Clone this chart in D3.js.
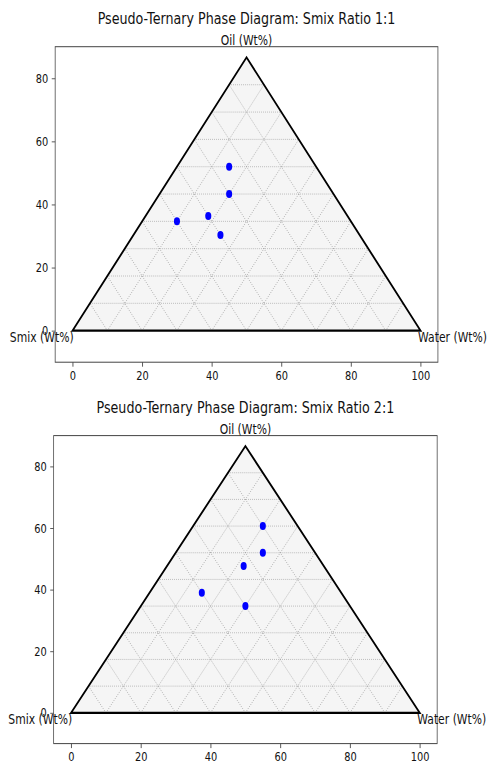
<!DOCTYPE html>
<html>
<head>
<meta charset="utf-8">
<script src="https://cdn.jsdelivr.net/npm/d3@7"></script>
<style>
  body { margin: 0; background: #fff; }
  text { font-family: "DejaVu Sans", sans-serif; fill: #111; }
</style>
</head>
<body>
<div id="chart"></div>
<script>
// chart values
var titles = ["Pseudo-Ternary Phase Diagram: Smix Ratio 1:1",
              "Pseudo-Ternary Phase Diagram: Smix Ratio 2:1"];
var ticksX = [0, 20, 40, 60, 80, 100];
var ticksY = [0, 20, 40, 60, 80];
var gridLevels = [10, 20, 30, 40, 50, 60, 70, 80, 90];

// composition points (Wt%)
var oil1 = [60, 50, 42, 40, 35];
var water1 = [15, 20, 18, 10, 25];
var smix1 = [25, 30, 40, 50, 40];

var oil2 = [70, 60, 55, 45, 40];
var water2 = [20, 25, 22, 15, 30];
var smix2 = [10, 15, 23, 40, 30];

// the picture is horizontally squeezed, so draw in a wider space and squash it
var W = 640, H = 761;
var svg = d3.select("#chart").append("svg")
    .attr("width", 487).attr("height", 761)
    .attr("viewBox", "0 0 " + W + " " + H)
    .attr("preserveAspectRatio", "none");

var panels = [
  {title: titles[0], oil: oil1, water: water1, smix: smix1,
   xr: [72.5, 575.5], yr: [362.2, 46.7], titleY: 24},
  {title: titles[1], oil: oil2, water: water2, smix: smix2,
   xr: [70.5, 574.5], yr: [743.6, 435.6], titleY: 412.7}
];

var S = Math.sqrt(3) / 2;

// ternary -> cartesian (smix left, water right, oil on top)
function tern(o, w, s) {
  var t = o + w + s;
  return [100 * (w + o / 2) / t, 100 * o * S / t];
}

panels.forEach(function(p) {
  var x = d3.scaleLinear().domain([-5, 105]).range(p.xr);
  var y = d3.scaleLinear().domain([-10, 90]).range(p.yr);
  var g = svg.append("g");

  // frame
  g.append("rect")
    .attr("x", p.xr[0]).attr("y", p.yr[1])
    .attr("width", p.xr[1] - p.xr[0]).attr("height", p.yr[0] - p.yr[1])
    .attr("fill", "none").attr("stroke", "#444").attr("stroke-width", 1);

  g.append("g")
    .attr("transform", "translate(0," + p.yr[0] + ")")
    .call(d3.axisBottom(x).tickValues(ticksX).tickSize(4.5).tickPadding(4))
    .call(function(a) {
      a.select(".domain").remove();
      a.selectAll("line").attr("stroke", "#444");
      a.selectAll("text").attr("font-size", 12.9).style("font-family", "DejaVu Sans");
    });

  g.append("g")
    .attr("transform", "translate(" + p.xr[0] + ",0)")
    .call(d3.axisLeft(y).tickValues(ticksY).tickSize(4.5).tickPadding(4.5))
    .call(function(a) {
      a.select(".domain").remove();
      a.selectAll("line").attr("stroke", "#444");
      a.selectAll("text").attr("font-size", 12.9).style("font-family", "DejaVu Sans");
    });

  var line = d3.line().x(function(d) { return x(d[0]); }).y(function(d) { return y(d[1]); });

  var corners = [tern(0, 0, 100), tern(0, 100, 0), tern(100, 0, 0)];

  // triangle fill
  g.append("path")
    .attr("d", line(corners) + "Z")
    .attr("fill", "#f5f5f5");

  // grid lines
  var grid = [];
  gridLevels.forEach(function(v) {
    grid.push([tern(v, 0, 100 - v), tern(v, 100 - v, 0)]);   // constant oil
    grid.push([tern(0, v, 100 - v), tern(100 - v, v, 0)]);   // constant water
    grid.push([tern(0, 100 - v, v), tern(100 - v, 0, v)]);   // constant smix
  });
  g.selectAll(".grid").data(grid).join("path")
    .attr("class", "grid")
    .attr("d", line)
    .attr("fill", "none")
    .attr("stroke", "#999")
    .attr("stroke-width", 0.9)
    .attr("stroke-dasharray", "1,1.6");

  // triangle outline
  g.append("path")
    .attr("d", line(corners) + "Z")
    .attr("fill", "none")
    .attr("stroke", "#000")
    .attr("stroke-width", 2.2)
    .attr("stroke-linejoin", "miter");

  // points
  var pts = p.oil.map(function(o, i) { return tern(o, p.water[i], p.smix[i]); });
  g.selectAll(".pt").data(pts).join("circle")
    .attr("class", "pt")
    .attr("cx", function(d) { return x(d[0]); })
    .attr("cy", function(d) { return y(d[1]); })
    .attr("r", 4)
    .attr("fill", "#0000ff");

  // labels
  g.append("text")
    .attr("x", (p.xr[0] + p.xr[1]) / 2).attr("y", p.titleY)
    .attr("text-anchor", "middle").attr("font-size", 16.7)
    .text(p.title);

  g.append("text")
    .attr("x", x(50)).attr("y", p.yr[1] - 2)
    .attr("text-anchor", "middle").attr("font-size", 14.2)
    .text("Oil (Wt%)");

  g.append("text")
    .attr("x", x(0.3)).attr("y", y(0) + 11)
    .attr("text-anchor", "end").attr("font-size", 14.2)
    .text("Smix (Wt%)");

  g.append("text")
    .attr("x", x(99.3)).attr("y", y(0) + 11)
    .attr("text-anchor", "start").attr("font-size", 14.2)
    .text("Water (Wt%)");
});
</script>
</body>
</html>
